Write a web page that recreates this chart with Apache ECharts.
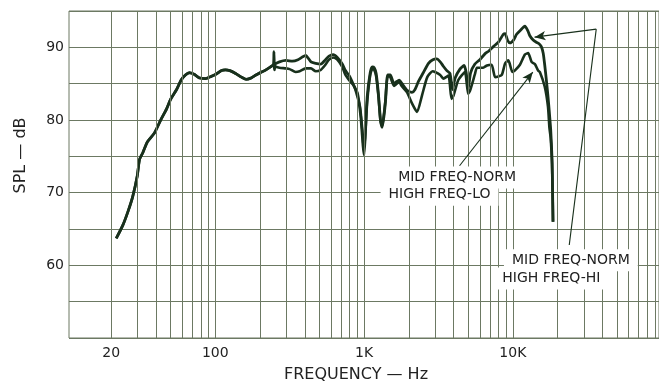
<!DOCTYPE html>
<html><head><meta charset="utf-8">
<script src="https://cdn.jsdelivr.net/npm/echarts@6/dist/echarts.min.js"></script>
<style>html,body{margin:0;padding:0;background:#fff}#c{width:659px;height:388px}</style>
</head><body><div id="c"></div>
<script>
// ---- data ----
const sharedFreq = [21.6, 23.9, 26, 27.9, 29.9, 31, 32.6, 35, 39, 43, 47, 50, 55, 59, 63, 67, 72, 78, 86, 94, 101, 110, 117, 125, 137, 150, 161, 175, 188, 200, 219, 235, 246];
const sharedSpl  = [63.7, 65.5, 67.5, 69.5, 72.3, 74.6, 75.5, 77.0, 78.2, 80.0, 81.5, 82.8, 84.2, 85.5, 86.2, 86.5, 86.3, 85.8, 85.7, 86.0, 86.3, 86.8, 86.9, 86.8, 86.4, 85.9, 85.6, 85.8, 86.2, 86.5, 86.9, 87.3, 87.6];

const hiFreq = [248, 250, 253, 270, 298, 330, 360, 387, 405, 440, 473, 512, 545, 582, 620, 661, 714, 750, 800, 860, 903, 950, 985, 1000, 1020, 1050, 1100, 1135, 1170, 1206, 1250, 1290, 1324, 1360, 1393, 1440, 1500, 1590, 1660, 1720, 1800, 1945, 2100, 2200, 2320, 2500, 2710, 2900, 3080, 3250, 3410, 3600, 3780, 3930, 4100, 4410, 4700, 4860, 5010, 5200, 5560, 6000, 6490, 6900, 7400, 7990, 8630, 8880, 9200, 9570, 10100, 10600, 11300, 12050, 12600, 13010, 13700, 14390, 15000, 15540, 16000, 16370, 16800, 17230, 17600, 17960, 18340, 18500, 18620];
const hiSpl  = [89.4, 86.9, 87.7, 88.0, 88.2, 88.1, 88.3, 88.7, 88.9, 88.0, 87.8, 87.7, 88.2, 88.8, 89.0, 88.6, 87.7, 86.8, 86.0, 84.6, 83.7, 80.5, 76.4, 75.2, 78.0, 83.2, 86.5, 87.3, 87.2, 86.4, 83.5, 80.0, 79.0, 80.5, 82.5, 86.2, 86.2, 85.0, 85.3, 85.5, 85.0, 84.1, 83.8, 84.2, 85.3, 86.5, 87.8, 88.3, 88.4, 88.0, 87.4, 86.8, 86.4, 84.2, 85.8, 87.0, 87.5, 86.5, 84.3, 86.5, 87.7, 88.3, 89.1, 89.5, 90.1, 90.7, 91.8, 91.9, 91.0, 90.6, 91.0, 91.8, 92.4, 92.9, 92.3, 91.6, 91.0, 90.7, 90.5, 90.1, 89.2, 87.6, 85.5, 83.2, 81.0, 78.7, 74.6, 70.0, 66.0];

const loFreq = [250, 270, 298, 316, 347, 369, 405, 440, 473, 512, 545, 582, 620, 661, 714, 750, 800, 860, 903, 940, 975, 995, 1015, 1050, 1100, 1135, 1170, 1206, 1250, 1290, 1324, 1360, 1393, 1440, 1500, 1590, 1660, 1720, 1800, 1945, 2100, 2270, 2460, 2660, 2890, 3000, 3250, 3410, 3690, 3870, 4000, 4300, 4760, 5010, 5150, 5560, 5740, 6320, 6700, 7200, 7600, 8000, 8430, 8880, 9340, 9920, 10300, 11160, 12050, 12680, 13360, 14060, 14790, 15190, 16370, 17230, 17600, 17960, 18340, 18500, 18620];
const loSpl  = [87.4, 87.2, 87.1, 87.0, 86.6, 86.7, 87.1, 87.1, 86.7, 86.9, 87.5, 88.3, 88.6, 88.3, 87.3, 86.2, 85.4, 84.6, 83.2, 81.8, 78.5, 76.0, 77.5, 82.5, 86.2, 87.0, 86.9, 86.0, 83.2, 79.8, 79.2, 80.8, 82.8, 86.0, 85.9, 84.7, 85.0, 85.2, 84.6, 83.8, 82.3, 81.1, 83.5, 85.9, 86.7, 86.6, 86.2, 85.7, 86.1, 82.9, 83.4, 85.5, 86.6, 83.6, 84.0, 86.3, 87.2, 87.2, 87.5, 87.6, 85.9, 86.0, 86.2, 87.8, 88.2, 86.6, 86.8, 87.6, 89.0, 89.2, 88.0, 87.7, 86.8, 86.6, 84.6, 81.8, 79.0, 77.5, 74.0, 70.0, 66.0];

const xTickValues = [20, 100, 1000, 10000];
const xTickLabels = ['20', '100', '1K', '10K'];
const yTickValues = [60, 70, 80, 90];
const gridFreqs = [20, 30, 40, 50, 60, 70, 80, 90, 100, 200, 300, 400, 500, 600, 700, 800, 900, 1000, 2000, 3000, 4000, 5000, 6000, 7000, 8000, 9000, 10000, 20000, 30000, 40000, 50000, 60000, 70000, 80000, 90000];
const hiName = 'MID FREQ-NORM / HIGH FREQ-HI';
const loName = 'MID FREQ-NORM / HIGH FREQ-LO';

// ---- chart ----
const gridColor = '#6c7963';
const inkColor = '#18301c';
const textColor = '#222222';
const fontFamily = 'DejaVu Sans';

const pairs = (f, s) => f.map((v, i) => [v, s[i]]);
const hiData = pairs(sharedFreq.concat(hiFreq), sharedSpl.concat(hiSpl));
const loData = pairs(sharedFreq.concat(loFreq), sharedSpl.concat(loSpl));

const annText = {color: textColor, fontFamily, fontSize: 14, backgroundColor: '#fff', padding: [4, 8]};

const chart = echarts.init(document.getElementById('c'));
chart.setOption({
  animation: false,
  backgroundColor: '#fff',
  grid: {left: 69, right: 0, top: 11, bottom: 48, show: true, borderColor: gridColor, borderWidth: 1},
  xAxis: {
    type: 'log', logBase: 10, min: 10.4, max: 96000,
    name: 'FREQUENCY — Hz', nameLocation: 'middle', nameGap: 29,
    nameTextStyle: {color: textColor, fontFamily, fontSize: 16, padding: [0, 16, 0, 0]},
    axisLine: {show: false}, axisTick: {show: false}, splitLine: {show: false},
    axisLabel: {
      customValues: xTickValues, margin: 8, color: textColor, fontFamily, fontSize: 14,
      formatter: v => { const i = xTickValues.findIndex(t => Math.abs(t - v) / t < 0.01); return i >= 0 ? xTickLabels[i] : ''; }
    }
  },
  yAxis: {
    type: 'value', min: 50, max: 95, interval: 5,
    name: 'SPL — dB', nameLocation: 'middle', nameRotate: 90, nameGap: 40,
    nameTextStyle: {color: textColor, fontFamily, fontSize: 16, padding: [0, 0, 0, 38]},
    axisLine: {show: false}, axisTick: {show: false},
    splitLine: {show: true, lineStyle: {color: gridColor, width: 1}},
    axisLabel: {margin: 5, color: textColor, fontFamily, fontSize: 14,
      formatter: v => yTickValues.includes(v) ? String(v) : ''}
  },
  series: [
    {
      name: 'grid', type: 'line', data: [], z: 1, silent: true,
      markLine: {
        silent: true, symbol: ['none', 'none'], label: {show: false},
        lineStyle: {color: gridColor, width: 1, type: 'solid'},
        data: gridFreqs.map(f => ({xAxis: f}))
      }
    },
    {
      name: hiName, type: 'line', data: hiData, z: 3, showSymbol: false, smooth: 0.2,
      lineStyle: {color: inkColor, width: 2.8}, itemStyle: {color: inkColor},
      markLine: {
        silent: true, label: {show: false}, symbolSize: [7, 11],
        lineStyle: {color: inkColor, width: 1.1, type: 'solid'},
        data: [
          [{coord: [23940, 62.8], symbol: 'none'}, {coord: [36340, 92.5], symbol: 'none'}],
          [{coord: [36340, 92.5], symbol: 'none'}, {coord: [13990, 91.4], symbol: 'arrow'}]
        ]
      },
      markPoint: {
        silent: true, symbol: 'circle', symbolSize: 1, itemStyle: {color: 'rgba(0,0,0,0)'},
        label: Object.assign({show: true, position: 'inside'}, annText),
        data: [
          {coord: [24540, 60.7], label: {formatter: 'MID FREQ-NORM'}},
          {coord: [18150, 58.2], label: {formatter: 'HIGH FREQ-HI'}}
        ]
      }
    },
    {
      name: loName, type: 'line', data: loData, z: 3, showSymbol: false, smooth: 0.2,
      lineStyle: {color: inkColor, width: 2.6}, itemStyle: {color: inkColor},
      markLine: {
        silent: true, label: {show: false}, symbolSize: [7, 11],
        lineStyle: {color: inkColor, width: 1.1, type: 'solid'},
        data: [
          [{coord: [4384, 73.7], symbol: 'none'}, {coord: [13620, 86.6], symbol: 'arrow'}]
        ]
      },
      markPoint: {
        silent: true, symbol: 'circle', symbolSize: 1, itemStyle: {color: 'rgba(0,0,0,0)'},
        label: Object.assign({show: true, position: 'inside'}, annText),
        data: [
          {coord: [4218, 72.1], label: {formatter: 'MID FREQ-NORM'}},
          {coord: [3216, 69.7], label: {formatter: 'HIGH FREQ-LO'}}
        ]
      }
    }
  ]
});
</script>
</body></html>
